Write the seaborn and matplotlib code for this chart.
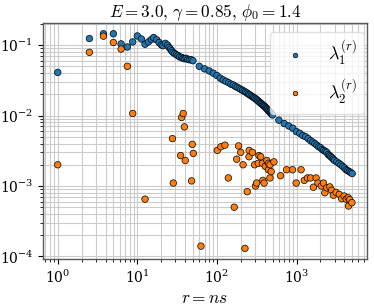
import numpy as np
import pandas as pd

import matplotlib
matplotlib.use("Agg")
import matplotlib.pyplot as plt
import seaborn as sns


# r = n s values and eigenvalues
blue_r = [
    1, 2.5, 3.75, 5, 6.25, 7.5, 8.75, 10, 11.25, 12.5, 13.75, 15, 16, 17.5,
    18.75, 20, 21, 22.5, 24, 25, 26, 27, 28, 29.5, 31, 32.5, 34, 36, 37.5,
    39, 41, 43, 45, 47.5, 50,
    60, 70, 80, 90, 100, 110, 120, 130, 140, 150, 160, 170, 180, 190, 200,
    210, 220, 230, 240, 250, 260, 270, 280, 290, 300, 310, 320, 330, 340,
    350, 360, 370, 380, 390, 400, 410, 420, 430, 440, 450, 460, 470, 480,
    490, 500,
    600, 700, 800, 900, 1000, 1100, 1200, 1300, 1400, 1500, 1600, 1700,
    1800, 1900, 2000, 2100, 2200, 2300, 2400, 2500, 2600, 2700, 2800, 2900,
    3000, 3200, 3400, 3600, 3800, 4000, 4200, 4400, 4600, 4800, 5000
]

blue_lam = [
    0.041, 0.124, 0.145, 0.145, 0.104, 0.094, 0.111, 0.135, 0.122, 0.103,
    0.111, 0.12, 0.128, 0.119, 0.109, 0.101, 0.098, 0.106, 0.100, 0.093,
    0.088, 0.083, 0.079, 0.076, 0.073, 0.071, 0.068, 0.067, 0.065, 0.064,
    0.065, 0.063, 0.062, 0.062, 0.060,
    0.050, 0.046, 0.043, 0.040, 0.037, 0.034, 0.032, 0.0306, 0.0293, 0.028,
    0.0272, 0.026, 0.0252, 0.0243, 0.0235, 0.0228, 0.0221, 0.0215, 0.0208,
    0.0201, 0.0196, 0.019, 0.0185, 0.018, 0.0176, 0.0171, 0.0166, 0.0161,
    0.0156, 0.0152, 0.0148, 0.0144, 0.014, 0.0137, 0.0134, 0.013, 0.0126,
    0.0123, 0.0119, 0.0116, 0.0113, 0.011, 0.0107, 0.0104, 0.0102,
    0.0086, 0.0077, 0.0071, 0.0066, 0.0059, 0.0056, 0.0052, 0.0050, 0.0047,
    0.0044, 0.0042, 0.0040, 0.0038, 0.0036, 0.0035, 0.0033, 0.0032, 0.0031,
    0.0030, 0.0028, 0.0027, 0.0026, 0.0025, 0.0024, 0.0023,
    0.0022, 0.0021, 0.0020, 0.0019, 0.0018, 0.0017, 0.00165, 0.0016,
    0.00155, 0.0015
]

orange_r = [
    1, 2.5, 3.75, 5, 6.25, 7.5, 8.75, 12.5,
    27.6, 28.3, 35, 36, 37.7, 39, 40, 48, 49, 50.5,
    63, 101, 112, 126, 139, 165, 177, 187, 199, 213, 225, 240, 253, 254,
    279, 297, 305, 315, 331, 337, 355, 373, 377, 391, 405, 424, 444, 444,
    464, 464, 480, 520,
    630, 750, 890, 990, 1140, 1250, 1370, 1500, 1630, 1760, 1860, 2050,
    2180, 2270, 2400, 2620, 2760, 2900, 3140, 3440, 3690, 3960, 4210, 4460,
    4500, 4660, 4960
]

orange_lam = [
    0.002, 0.079, 0.134, 0.109, 0.088, 0.050, 0.0107, 0.00065,
    0.0047, 0.0011, 0.0027, 0.0094, 0.0107, 0.0069, 0.0023, 0.00118,
    0.0039, 0.0029,
    0.00014, 0.0032, 0.0036, 0.0038, 0.0013, 0.0005, 0.0024, 0.0037,
    0.0030, 0.0020, 0.00013, 0.00083, 0.0026, 0.0032, 0.0030, 0.0020,
    0.0010, 0.0011, 0.0021, 0.0027, 0.0026, 0.0021, 0.0012, 0.0011, 0.0019,
    0.0023, 0.0021, 0.0017, 0.0020, 0.0013, 0.0016, 0.0022,
    0.0014, 0.0017, 0.0017, 0.0011, 0.0017, 0.0012, 0.0013, 0.0013,
    0.00096, 0.0013, 0.0011, 0.0010, 0.0011, 0.0008, 0.00094, 0.00097,
    0.00087, 0.00074, 0.00081, 0.00076, 0.00066, 0.00072, 0.00065,
    0.00068, 0.00052, 0.00064, 0.00058
]

labels = [r"$\lambda_1^{(r)}$", r"$\lambda_2^{(r)}$"]


df = pd.concat([
    pd.DataFrame({"r": blue_r, "lam": blue_lam, "series": labels[0]}),
    pd.DataFrame({"r": orange_r, "lam": orange_lam, "series": labels[1]}),
])


plt.rcParams["mathtext.fontset"] = "cm"
plt.rcParams["font.family"] = ["DejaVu Serif"]

fig, ax = plt.subplots(figsize=(3.74, 3.07), dpi=100)

sns.scatterplot(
    data=df,
    x="r",
    y="lam",
    hue="series",
    palette=["#1f77b4", "#ff7f0e"],
    s=22,
    edgecolor="black",
    linewidth=0.5,
    ax=ax
)

ax.set_xscale("log")
ax.set_yscale("log")

ax.grid(True, which="both", color="0.8", linewidth=0.8)
ax.set_axisbelow(True)

for sp in ax.spines.values():
    sp.set_color("0.35")
    sp.set_linewidth(1.0)

ax.tick_params(labelsize=10)

ax.set_title(r"$E = 3.0,\, \gamma = 0.85,\, \phi_0 = 1.4$", fontsize=12.3, pad=4)
ax.set_xlabel(r"$r = ns$", fontsize=12.5, labelpad=3)
ax.set_ylabel("")

ax.legend(
    loc="upper right",
    bbox_to_anchor=(0.991, 0.962),
    borderaxespad=0,
    fontsize=13,
    markerscale=0.7,
    framealpha=0.8,
    edgecolor="0.85"
)

plt.subplots_adjust(left=0.115, right=0.981, top=0.925, bottom=0.156)

plt.savefig("out.png")

plt.close()
